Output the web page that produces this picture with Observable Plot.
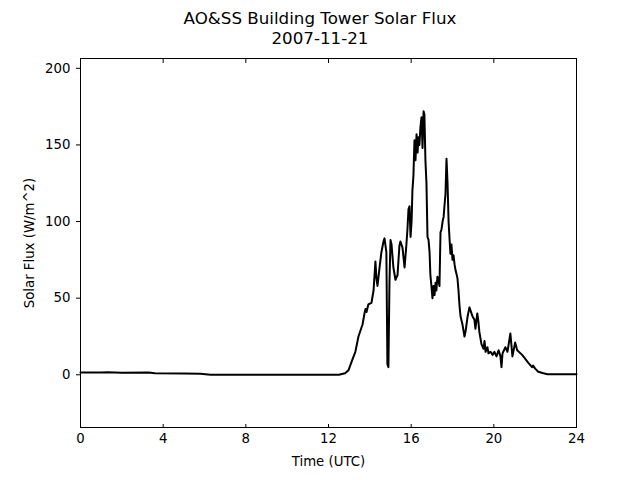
<!DOCTYPE html>
<html>
<head>
<meta charset="utf-8">
<script src="https://cdn.jsdelivr.net/npm/d3@7"></script>
<script src="https://cdn.jsdelivr.net/npm/@observablehq/plot@0.6"></script>
<style>
  html, body { margin: 0; padding: 0; background: #fff; }
  #title { width: 640px; height: 48px; padding-top: 8px; box-sizing: border-box; text-align: center;
           font-family: "DejaVu Sans", sans-serif; font-size: 16.7px; line-height: 20px; color: #000; }
  #chart svg { display: block; }
</style>
</head>
<body>
<div id="title">AO&amp;SS Building Tower Solar Flux<br>2007-11-21</div>
<div id="chart"></div>
<script>
const titleLines = ["AO&SS Building Tower Solar Flux", "2007-11-21"];
const xLabel = "Time (UTC)";
const yLabel = "Solar Flux (W/m^2)";
const xTicks = [0, 4, 8, 12, 16, 20, 24];
const yTicks = [0, 50, 100, 150, 200];

const hours = [0, 1.0, 1.3, 2.0, 3.3, 3.6, 5.0, 5.8, 6.3, 12.5, 12.8, 12.97, 13.16, 13.3, 13.45, 13.65, 13.74, 13.79, 13.84, 13.93,
  14.08, 14.18, 14.27, 14.32, 14.37, 14.47, 14.56, 14.66, 14.71, 14.8, 14.85, 14.9, 14.95, 15.0, 15.05, 15.14, 15.24, 15.34, 15.43, 15.48,
  15.58, 15.68, 15.77, 15.82, 15.87, 15.92, 15.97, 16.02, 16.06, 16.11, 16.16, 16.21, 16.26, 16.31, 16.35, 16.4, 16.45, 16.5, 16.55, 16.6,
  16.64, 16.69, 16.74, 16.79, 16.84, 16.89, 16.93, 16.98, 17.03, 17.08, 17.13, 17.18, 17.22, 17.27, 17.32, 17.37, 17.42, 17.47, 17.52, 17.57,
  17.61, 17.66, 17.71, 17.76, 17.81, 17.86, 17.9, 17.95, 18.0, 18.05, 18.1, 18.15, 18.19, 18.24, 18.29, 18.34, 18.39, 18.48, 18.58, 18.63,
  18.73, 18.82, 18.87, 18.97, 19.06, 19.11, 19.2, 19.25, 19.3, 19.4, 19.5, 19.55, 19.6, 19.69, 19.74, 19.84, 19.94, 20.03, 20.13, 20.23,
  20.32, 20.37, 20.42, 20.56, 20.66, 20.8, 20.9, 21.03, 21.13, 21.37, 21.66, 21.85, 21.9, 22.0, 22.15, 22.4, 22.6, 24];
const flux = [1.5, 1.5, 1.6, 1.4, 1.5, 1.0, 0.8, 0.6, 0.0, 0.0, 1, 3, 10, 15, 25, 33, 40, 43, 41, 46,
  47, 55, 74, 63, 58, 70, 80, 87, 89, 80, 7, 5, 60, 88, 85, 70, 62, 65, 84, 87,
  83, 70, 85, 95, 108, 110, 90, 100, 120, 130, 153, 140, 157, 145, 155, 150, 162, 168, 148, 172,
  170, 140, 125, 90, 88, 80, 65, 58, 50, 58, 52, 60, 55, 64, 62, 58, 93, 95, 100, 103,
  110, 118, 141, 125, 100, 88, 79, 85, 75, 78, 72, 68, 66, 63, 55, 45, 38, 33, 25, 28,
  38, 44, 42, 38, 36, 30, 40, 35, 28, 20, 17, 22, 15, 18, 14, 15, 13, 15, 12, 16,
  12, 5, 14, 18, 15, 27, 12, 21, 16, 13, 8, 5, 6, 4, 2, 1, 0.3, 0.3];

const data = hours.map((h, i) => ({hour: h, flux: flux[i]}));

const chart = Plot.plot({
  width: 640,
  height: 432,
  marginTop: 10,
  marginBottom: 53,
  marginLeft: 80,
  marginRight: 64,
  style: {fontFamily: "DejaVu Sans, sans-serif", fontSize: "13.3px", color: "#000", background: "#fff"},
  x: {domain: [0, 24]},
  y: {domain: [-34.4, 206.4]},
  marks: [
    Plot.line(data, {x: "hour", y: "flux", stroke: "black", strokeWidth: 2}),
    Plot.frame({stroke: "black", strokeWidth: 1}),
    Plot.axisX(xTicks, {anchor: "bottom", tickSize: 0, tickPadding: 6, label: xLabel, labelAnchor: "center", labelArrow: "none", labelOffset: 38, fill: "black"}),
    Plot.axisX(xTicks, {anchor: "bottom", tickSize: 3, text: null, dy: -3, label: null, stroke: "black"}),
    Plot.axisX(xTicks, {anchor: "top", tickSize: 4, text: null, dy: 4, label: null, stroke: "black"}),
    Plot.axisY(yTicks, {anchor: "left", tickSize: 0, tickPadding: 10, label: yLabel, labelAnchor: "center", labelArrow: "none", labelOffset: 56, fill: "black"}),
    Plot.axisY(yTicks, {anchor: "left", tickSize: 4, text: null, label: null, stroke: "black"})
  ]
});
document.getElementById("chart").appendChild(chart);
</script>
</body>
</html>
